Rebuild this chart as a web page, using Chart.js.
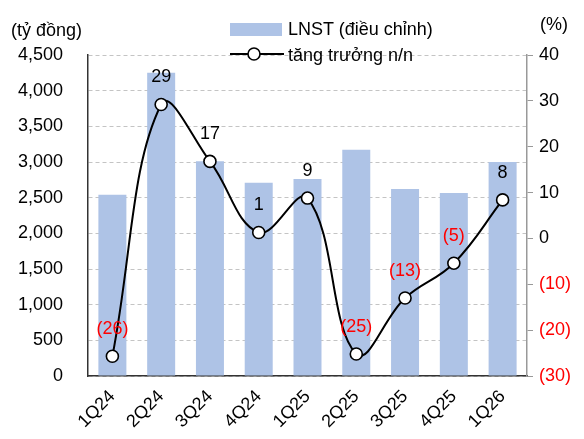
<!DOCTYPE html>
<html>
<head>
<meta charset="utf-8">
<script src="https://cdn.jsdelivr.net/npm/chart.js@4/dist/chart.umd.min.js"></script>
<style>
    body { margin: 0; background: #fff; font-family: "Liberation Sans", Arial, sans-serif; }
    #wrap { position: relative; width: 584px; height: 439px; }
    .lbl { position: absolute; font-size: 18px; color: #000; white-space: nowrap; line-height: 20px; }
    .swatch { position: absolute; left: 230px; top: 23px; width: 52px; height: 13px; background: #aec3e6; }
</style>
</head>
<body>
<div id="wrap">
    <canvas id="chart" width="584" height="439"></canvas>
    <div class="lbl" style="left:11px; top:20px;">(tỷ đồng)</div>
    <div class="lbl" style="left:540px; top:14px;">(%)</div>
    <div class="swatch"></div>
    <div class="lbl" style="left:288px; top:19px;">LNST (điều chỉnh)</div>
    <svg style="position:absolute; left:229px; top:46px;" width="56" height="16">
        <line x1="1" y1="8" x2="55" y2="8" stroke="#000" stroke-width="2"/>
        <circle cx="25" cy="8" r="6" fill="#fff" stroke="#000" stroke-width="1.6"/>
    </svg>
    <div class="lbl" style="left:288px; top:45px;">tăng trưởng n/n</div>
</div>
<script>
// du lieu doc tu hinh
const quarters = ['1Q24', '2Q24', '3Q24', '4Q24', '1Q25', '2Q25', '3Q25', '4Q25', '1Q26'];
const profit = [2540, 4250, 3010, 2710, 2760, 3170, 2620, 2565, 3000];
const growth = [-25.7, 29.2, 16.8, 1.3, 8.8, -25.2, -13.0, -5.4, 8.4];

const RED = '#ff0000';
const FONT = '"Liberation Sans", Arial, sans-serif';

function pctText(v) {
    return v < 0 ? '(' + (-v) + ')' : '' + v;
}

// ve nhan so tren cac diem cua duong
const pointLabels = {
    id: 'pointLabels',
    afterDatasetsDraw(chart) {
        const meta = chart.getDatasetMeta(1);
        const ctx = chart.ctx;
        ctx.save();
        ctx.font = '18px ' + FONT;
        ctx.textAlign = 'center';
        ctx.textBaseline = 'middle';
        meta.data.forEach((pt, i) => {
            const v = Math.round(growth[i]);
            ctx.fillStyle = v < 0 ? RED : '#000';
            ctx.fillText(pctText(v), pt.x, pt.y - 27);
        });
        ctx.restore();
    }
};

new Chart(document.getElementById('chart'), {
    data: {
        labels: quarters,
        datasets: [{
            type: 'bar',
            label: 'LNST (điều chỉnh)',
            data: profit,
            backgroundColor: '#aec3e6',
            barPercentage: 0.7,
            categoryPercentage: 0.82,
            yAxisID: 'y',
            order: 1
        }, {
            type: 'line',
            label: 'tăng trưởng n/n',
            data: growth,
            borderColor: '#000',
            borderWidth: 2,
            tension: 0.4,
            pointRadius: 6,
            pointBorderWidth: 1.6,
            pointBackgroundColor: '#fff',
            pointBorderColor: '#000',
            yAxisID: 'y2',
            order: 0
        }]
    },
    options: {
        responsive: false,
        animation: false,
        layout: { padding: { top: 55, left: 0, right: 0, bottom: 0 } },
        plugins: {
            legend: { display: false },
            tooltip: { enabled: false }
        },
        scales: {
            x: {
                grid: { display: false, drawTicks: false },
                border: { color: '#333', width: 1.5 },
                ticks: {
                    minRotation: 45, maxRotation: 45,
                    padding: 10,
                    color: '#000',
                    font: { family: FONT, size: 18 }
                },
                afterFit: s => { s.height = 63; s.paddingLeft = 0; s.paddingRight = 0; }
            },
            y: {
                position: 'left',
                min: 0, max: 4500,
                ticks: {
                    stepSize: 500,
                    padding: 25,
                    color: '#000',
                    font: { family: FONT, size: 18 },
                    callback: v => v.toLocaleString('en-US')
                },
                grid: { color: '#c4c4c4', drawTicks: false },
                border: { color: '#333', width: 1.5, dash: [4, 3] },
                afterFit: s => { s.width = 88; }
            },
            y2: {
                position: 'right',
                min: -30, max: 40,
                ticks: {
                    stepSize: 10,
                    padding: 6,
                    font: { family: FONT, size: 18 },
                    color: ctx => ctx.tick.value < 0 ? RED : '#000',
                    callback: v => pctText(v)
                },
                grid: { drawOnChartArea: false, color: '#999', tickLength: 6 },
                border: { color: '#999', width: 1.5 },
                afterFit: s => { s.width = 57; }
            }
        }
    },
    plugins: [pointLabels]
});
</script>
</body>
</html>
